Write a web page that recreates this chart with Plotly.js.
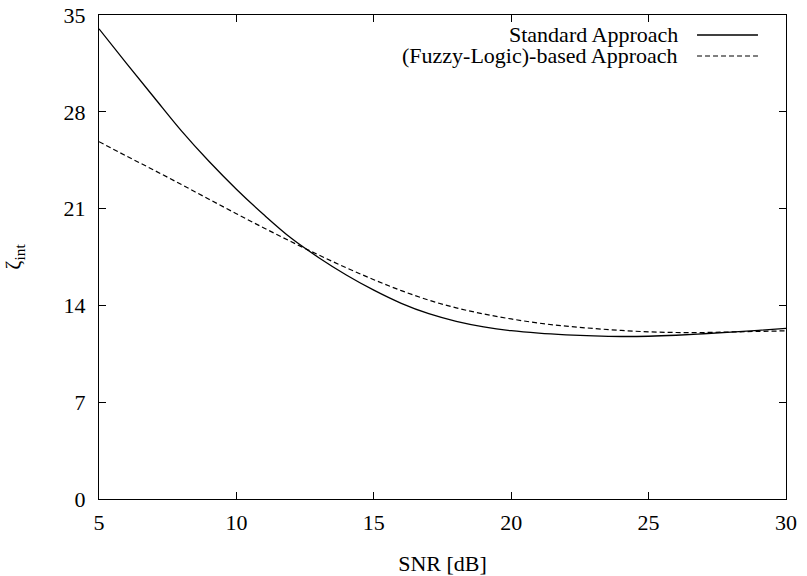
<!DOCTYPE html>
<html>
<head>
<meta charset="utf-8">
<script src="https://cdn.plot.ly/plotly-3.0.1.min.js"></script>
<style>html,body{margin:0;padding:0;background:#fff;}#chart{width:807px;height:576px;}</style>
</head>
<body>
<div id="chart"></div>
<script>
// SNR values [dB]
const snr = [5,6,7,8,9,10,11,12,13,14,15,16,17,18,19,20,21,22,23,24,25,26,27,28,29,30];
// Standard Approach
const standardVals = [34.0,31.5,29.05,26.62,24.42,22.4,20.55,18.85,17.45,16.2,15.1,14.15,13.4,12.85,12.45,12.17,11.99,11.87,11.79,11.75,11.77,11.84,11.95,12.07,12.2,12.34];
// (Fuzzy-Logic)-based Approach
const fuzzyVals = [25.84,24.8,23.78,22.74,21.68,20.63,19.6,18.6,17.64,16.72,15.86,15.07,14.38,13.82,13.38,13.02,12.72,12.5,12.33,12.19,12.09,12.04,12.04,12.08,12.12,12.16];
const seriesNames = ["Standard Approach", "(Fuzzy-Logic)-based Approach"];
const xTicks = [5,10,15,20,25,30];
const yTicks = [0,7,14,21,28,35];

const font = {family: "Liberation Serif", size: 22, color: "#000"};

const traces = [
  {x: snr, y: standardVals, name: seriesNames[0], mode: "lines", type: "scatter",
   line: {color: "#000", width: 1.3, shape: "spline", smoothing: 1}},
  {x: snr, y: fuzzyVals, name: seriesNames[1], mode: "lines", type: "scatter",
   line: {color: "#000", width: 1.2, dash: "5px,3px", shape: "spline", smoothing: 1}}
];

const lx0 = 0.8705, lx1 = 0.9592, ltx = 0.8457, ly = [0.9587, 0.9153];

const layout = {
  width: 807, height: 576,
  margin: {l: 99, r: 21, t: 15, b: 77},
  paper_bgcolor: "#fff", plot_bgcolor: "#fff",
  font: font,
  showlegend: false,
  xaxis: {
    range: [5, 30], tickvals: xTicks, ticktext: xTicks.map(String),
    ticks: "inside", ticklen: 7, tickwidth: 1, tickcolor: "#000",
    showline: true, linecolor: "#000", linewidth: 1, mirror: "ticks",
    showgrid: false, zeroline: false, tickfont: font, ticklabelstandoff: 4,
    title: {text: "SNR [dB]", font: font, standoff: 22}
  },
  yaxis: {
    range: [0, 35], tickvals: yTicks, ticktext: yTicks.map(String),
    ticks: "inside", ticklen: 7, tickwidth: 1, tickcolor: "#000",
    showline: true, linecolor: "#000", linewidth: 1, mirror: "ticks",
    showgrid: false, zeroline: false, tickfont: font, ticklabelstandoff: 8,
    title: {text: "ζ<sub>int</sub>", font: font, standoff: 36}
  },
  annotations: seriesNames.map((n, i) => ({
    text: n, xref: "paper", yref: "paper", x: ltx, y: ly[i],
    xanchor: "right", yanchor: "middle", showarrow: false, font: font
  })),
  shapes: [
    {type: "line", xref: "paper", yref: "paper", x0: lx0, x1: lx1, y0: ly[0], y1: ly[0], line: {color: "#000", width: 1.3}},
    {type: "line", xref: "paper", yref: "paper", x0: lx0, x1: lx1, y0: ly[1], y1: ly[1], line: {color: "#000", width: 1.2, dash: "5px,3px"}}
  ]
};

Plotly.newPlot("chart", traces, layout, {displayModeBar: false, staticPlot: true});
</script>
</body>
</html>
